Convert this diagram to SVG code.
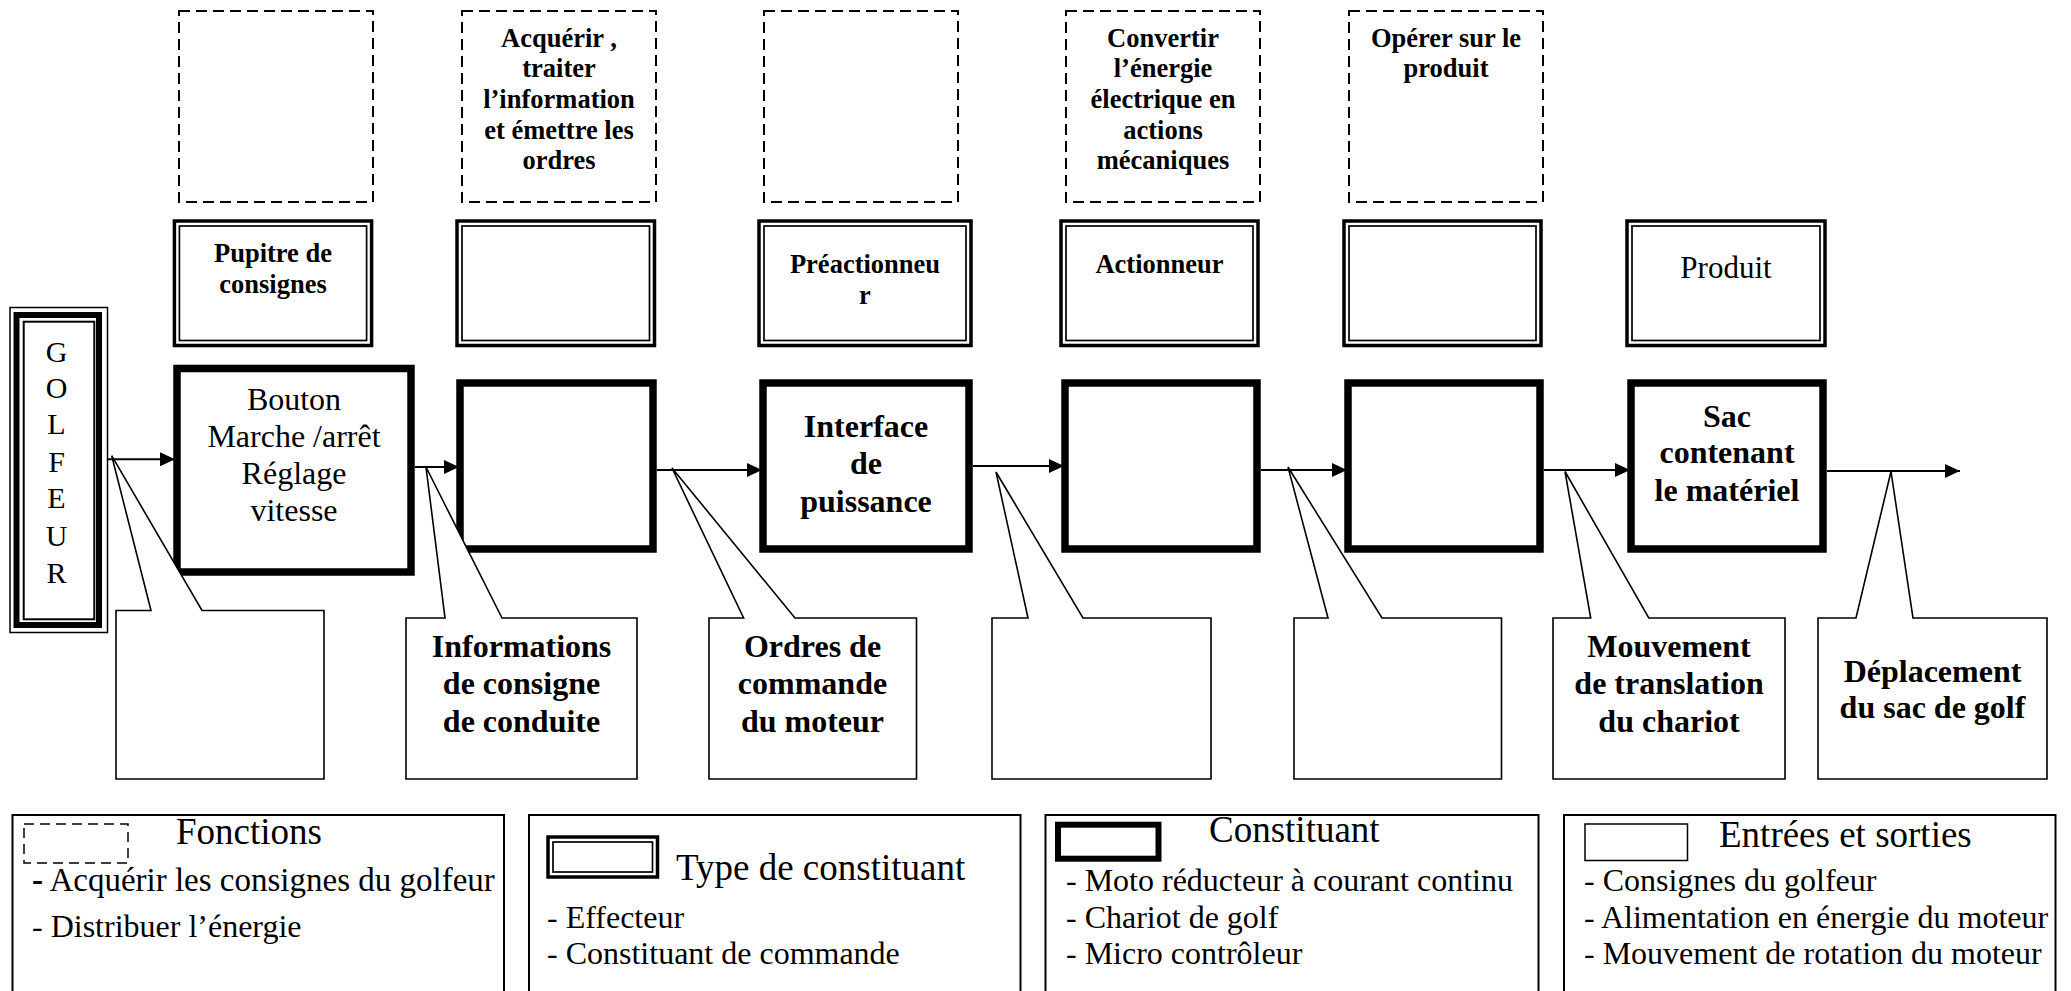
<svg xmlns="http://www.w3.org/2000/svg" width="2071" height="991" viewBox="0 0 2071 991">
<defs>
<style>
text{font-family:"Liberation Serif","Times New Roman",serif;fill:#000}
.b26{font-size:26.5px;font-weight:bold;text-anchor:middle}
.b32{font-size:32px;font-weight:bold;text-anchor:middle}
.r32{font-size:32px;text-anchor:middle}
.g{font-size:30px;text-anchor:middle}
.h{font-size:37px}
.li{font-size:32px}
.fn{fill:#fff;stroke:#000;stroke-width:2;stroke-dasharray:11 6}
.to{fill:#fff;stroke:#000;stroke-width:3.5}
.ti{fill:none;stroke:#000;stroke-width:1.7}
.cn{fill:#fff;stroke:#000;stroke-width:7.5}
.co{fill:#fff;stroke:#000;stroke-width:1.6}
.lg{fill:#fff;stroke:#000;stroke-width:2}
.ln{fill:none;stroke:#000;stroke-width:2;marker-end:url(#ah)}
</style>
<marker id="ah" markerUnits="userSpaceOnUse" markerWidth="16" markerHeight="14" refX="15" refY="7" orient="auto">
<path d="M0,0 L15,7 L0,14 Z" fill="#000"/>
</marker>
</defs>
<rect width="2071" height="991" fill="#fff"/>

<!-- Fonctions (dashed) -->
<g id="f1"><rect class="fn" x="179" y="11" width="194" height="191"/></g>
<g id="f2"><rect class="fn" x="462" y="11" width="194" height="191"/>
<text class="b26"><tspan x="559" y="47">Acquérir ,</tspan><tspan x="559" y="77.3">traiter</tspan><tspan x="559" y="108.3">l’information</tspan><tspan x="559" y="138.5">et émettre les</tspan><tspan x="559" y="169">ordres</tspan></text></g>
<g id="f3"><rect class="fn" x="764" y="11" width="194" height="191"/></g>
<g id="f4"><rect class="fn" x="1066" y="11" width="194" height="191"/>
<text class="b26"><tspan x="1163" y="47">Convertir</tspan><tspan x="1163" y="77.3">l’énergie</tspan><tspan x="1163" y="108.3">électrique en</tspan><tspan x="1163" y="138.5">actions</tspan><tspan x="1163" y="169">mécaniques</tspan></text></g>
<g id="f5"><rect class="fn" x="1349" y="11" width="194" height="191"/>
<text class="b26"><tspan x="1446" y="47">Opérer sur le</tspan><tspan x="1446" y="77">produit</tspan></text></g>

<!-- Types de constituant (double) -->
<g id="t1"><rect class="to" x="174.4" y="221" width="197.2" height="124.5"/><rect class="ti" x="179.4" y="226" width="187.2" height="114.5"/>
<text class="b26"><tspan x="273" y="261.7">Pupitre de</tspan><tspan x="273" y="293.3">consignes</tspan></text></g>
<g id="t2"><rect class="to" x="457" y="221" width="197.5" height="124.5"/><rect class="ti" x="462" y="226" width="187.5" height="114.5"/></g>
<g id="t3"><rect class="to" x="759" y="221" width="212" height="124.5"/><rect class="ti" x="764" y="226" width="202" height="114.5"/>
<text class="b26"><tspan x="865" y="273">Préactionneu</tspan><tspan x="865" y="304">r</tspan></text></g>
<g id="t4"><rect class="to" x="1061" y="221" width="197" height="124.5"/><rect class="ti" x="1066" y="226" width="187" height="114.5"/>
<text class="b26" x="1159.5" y="273">Actionneur</text></g>
<g id="t5"><rect class="to" x="1344" y="221" width="197" height="124.5"/><rect class="ti" x="1349" y="226" width="187" height="114.5"/></g>
<g id="t6"><rect class="to" x="1627" y="221" width="198" height="124.5"/><rect class="ti" x="1632" y="226" width="188" height="114.5"/>
<text class="r32" style="font-size:31px" x="1726" y="278">Produit</text></g>

<!-- Golfeur -->
<g id="golfeur">
<rect x="10" y="307.5" width="97.5" height="325" fill="#fff" stroke="#000" stroke-width="1.5"/>
<rect x="16.5" y="315" width="82.5" height="310" fill="none" stroke="#000" stroke-width="6"/>
<rect x="23.7" y="321.7" width="70.6" height="297.6" fill="none" stroke="#000" stroke-width="2"/>
<text class="g"><tspan x="56.5" y="361.7">G</tspan><tspan x="56.5" y="397.5">O</tspan><tspan x="56.5" y="434">L</tspan><tspan x="56.5" y="471.5">F</tspan><tspan x="56.5" y="508">E</tspan><tspan x="56.5" y="545.5">U</tspan><tspan x="56.5" y="582.7">R</tspan></text>
</g>

<!-- Constituants (thick) -->
<g id="c1"><rect class="cn" x="177" y="368.5" width="234" height="203.5"/>
<text class="r32"><tspan x="294" y="409.5">Bouton</tspan><tspan x="294" y="446.5">Marche /arrêt</tspan><tspan x="294" y="483.5">Réglage</tspan><tspan x="294" y="520.5">vitesse</tspan></text></g>
<g id="c2"><rect class="cn" x="460" y="383" width="193" height="166"/></g>
<g id="c3"><rect class="cn" x="763" y="383" width="206" height="166"/>
<text class="b32"><tspan x="866" y="437">Interface</tspan><tspan x="866" y="474">de</tspan><tspan x="866" y="511.7">puissance</tspan></text></g>
<g id="c4"><rect class="cn" x="1065" y="383" width="192" height="166"/></g>
<g id="c5"><rect class="cn" x="1348" y="383" width="192" height="166"/></g>
<g id="c6"><rect class="cn" x="1631" y="383" width="192" height="166"/>
<text class="b32"><tspan x="1727" y="426.7">Sac</tspan><tspan x="1727" y="463.3">contenant</tspan><tspan x="1727" y="501">le matériel</tspan></text></g>

<!-- Entrées / sorties (callouts) -->
<g id="e1"><path class="co" d="M116,610.5 H151 L111.7,455.7 L202,610.5 H324 V779 H116 Z"/></g>
<g id="e2"><path class="co" d="M406,618 H445 L426,467 L502,618 H637 V779 H406 Z"/>
<text class="b32"><tspan x="521.5" y="657">Informations</tspan><tspan x="521.5" y="694">de consigne</tspan><tspan x="521.5" y="731.7">de conduite</tspan></text></g>
<g id="e3"><path class="co" d="M709,618 H743.6 L672,468 L795,618 H916.5 V779 H709 Z"/>
<text class="b32"><tspan x="812.5" y="657">Ordres de</tspan><tspan x="812.5" y="694">commande</tspan><tspan x="812.5" y="731.7">du moteur</tspan></text></g>
<g id="e4"><path class="co" d="M992,618 H1028 L996,472 L1083,618 H1211 V779 H992 Z"/></g>
<g id="e5"><path class="co" d="M1294,618 H1328 L1288,467 L1382,618 H1501.5 V779 H1294 Z"/></g>
<g id="e6"><path class="co" d="M1553,618 H1590.7 L1565,471.5 L1648.8,618 H1785 V779 H1553 Z"/>
<text class="b32"><tspan x="1669" y="657">Mouvement</tspan><tspan x="1669" y="694">de translation</tspan><tspan x="1669" y="731.7">du chariot</tspan></text></g>
<g id="e7"><path class="co" d="M1818,618 H1856 L1891,471.5 L1913,618 H2047 V779 H1818 Z"/>
<text class="b32"><tspan x="1932.5" y="681.7">Déplacement</tspan><tspan x="1932.5" y="718.3">du sac de golf</tspan></text></g>

<!-- Connecteurs -->
<g id="connectors">
<path class="ln" d="M108,459.3 H175"/>
<path class="ln" d="M415,467 H459"/>
<path class="ln" d="M657,470 H762"/>
<path class="ln" d="M973,466 H1064"/>
<path class="ln" d="M1261,470 H1347"/>
<path class="ln" d="M1544,470 H1630"/>
<path class="ln" d="M1827,471 H1960"/>
</g>

<!-- Légende -->
<g id="leg1"><rect class="lg" x="12.5" y="815" width="491.5" height="190"/>
<rect x="24" y="824" width="104" height="39" fill="none" stroke="#000" stroke-width="1.5" stroke-dasharray="10 6"/>
<text class="h" x="176" y="844">Fonctions</text>
<text class="li" style="font-size:33px" x="32" y="891"><tspan font-weight="bold">-</tspan> Acquérir les consignes du golfeur</text>
<text class="li" x="32" y="937">- Distribuer l’énergie</text></g>
<g id="leg2"><rect class="lg" x="529" y="815" width="491.5" height="190"/>
<rect x="548" y="837" width="109.5" height="40" fill="#fff" stroke="#000" stroke-width="3.5"/>
<rect x="553" y="842" width="99.5" height="30" fill="none" stroke="#000" stroke-width="1.7"/>
<text class="h" x="676" y="880">Type de constituant</text>
<text class="li" x="547" y="927.5">- Effecteur</text>
<text class="li" x="547" y="964">- Constituant de commande</text></g>
<g id="leg3"><rect class="lg" x="1045.5" y="815" width="493" height="190"/>
<rect x="1058" y="824.7" width="100.5" height="34" fill="#fff" stroke="#000" stroke-width="6"/>
<text class="h" x="1209" y="841.7">Constituant</text>
<text class="li" x="1066" y="891">- Moto réducteur à courant continu</text>
<text class="li" x="1066" y="927.5">- Chariot de golf</text>
<text class="li" x="1066" y="964">- Micro contrôleur</text></g>
<g id="leg4"><rect class="lg" x="1564" y="815" width="491.5" height="190"/>
<rect x="1585" y="824" width="102.5" height="36.5" fill="#fff" stroke="#000" stroke-width="1.5"/>
<text class="h" x="1719" y="846.7">Entrées et sorties</text>
<text class="li" x="1584" y="891">- Consignes du golfeur</text>
<text class="li" x="1584" y="927.5">- Alimentation en énergie du moteur</text>
<text class="li" x="1584" y="964">- Mouvement de rotation du moteur</text></g>
</svg>
